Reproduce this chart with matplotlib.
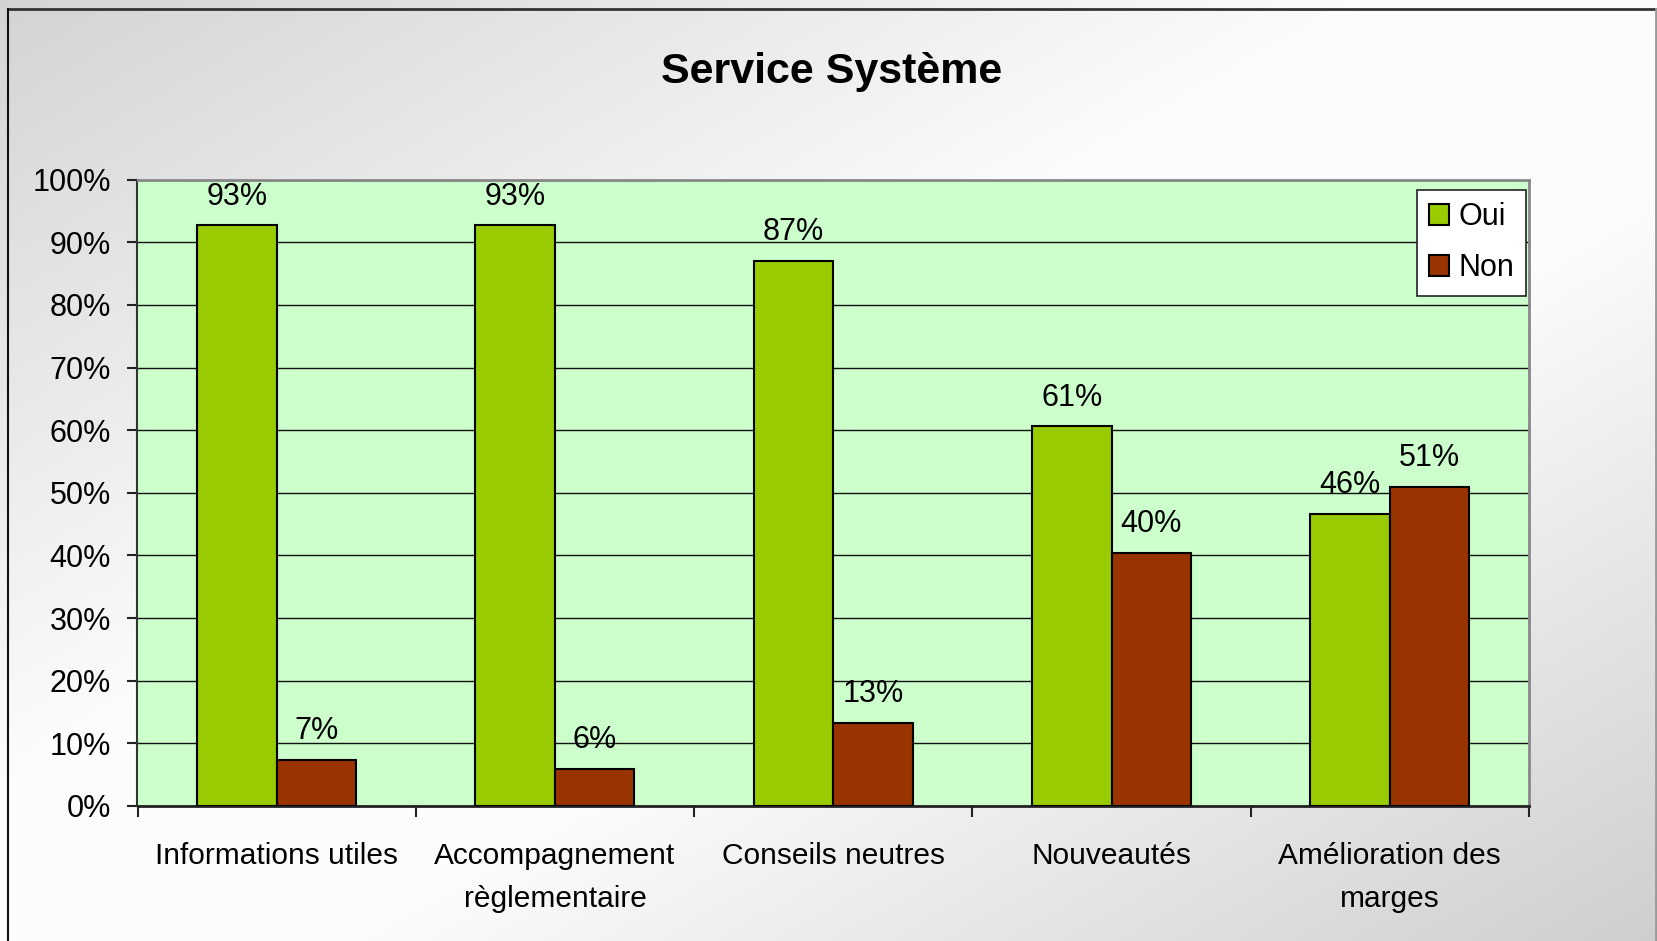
import numpy as np
import matplotlib
matplotlib.use("Agg")
import matplotlib.pyplot as plt
from matplotlib.lines import Line2D

plt.rcParams['font.family'] = ['Liberation Sans', 'DejaVu Sans']

# data
categories = ["Informations utiles", "Accompagnement\nrèglementaire",
              "Conseils neutres", "Nouveautés", "Amélioration des\nmarges"]
oui = [92.7, 92.7, 87.0, 60.6, 46.6]
non = [7.3, 5.9, 13.2, 40.4, 51.0]
oui_labels = ["93%", "93%", "87%", "61%", "46%"]
non_labels = ["7%", "6%", "13%", "40%", "51%"]
yticks = list(range(0, 101, 10))

W, H = 1658, 941
fs = 22
fig = plt.figure(figsize=(W / 100, H / 100), dpi=100)

# diagonal gray -> white -> gray background
bg = fig.add_axes([0, 0, 1, 1], zorder=-10)
xx, yy = np.meshgrid(np.linspace(0, 1, 400), np.linspace(0, 1, 240))
t = (xx + yy) / 2
shade = np.interp(t, [0, 0.42, 0.6, 1], [0.83, 0.99, 0.99, 0.81])
bg.imshow(np.dstack([shade] * 3), extent=[0, 1, 1, 0], aspect='auto')
bg.set_xlim(0, 1)
bg.set_ylim(1, 0)
bg.axis('off')

# outer frame
fx0, fx1, fy0 = 8.5 / W, 1656.5 / W, 1 - 9 / H
fig.add_artist(Line2D([fx0, fx1], [fy0, fy0], color='#333333', lw=2))
fig.add_artist(Line2D([fx0, fx0], [0, fy0], color='#111111', lw=1.5))
fig.add_artist(Line2D([fx1, fx1], [0, fy0], color='#999999', lw=2))

ax = fig.add_axes([137.5 / W, 1 - 805.8 / H, 1391.5 / W, 626 / H])
ax.set_facecolor('#CCFFCC')

x = np.arange(len(categories))
w = 1 / 3.5
b1 = ax.bar(x - w / 2, oui, w, color='#99CC00', edgecolor='black', lw=1.5,
            label='Oui', zorder=3)
b2 = ax.bar(x + w / 2, non, w, color='#993300', edgecolor='black', lw=1.5,
            label='Non', zorder=3)

for bars, labs in ((b1, oui_labels), (b2, non_labels)):
    for rect, lab in zip(bars, labs):
        ax.annotate(lab, (rect.get_x() + rect.get_width() / 2, rect.get_height()),
                    xytext=(0, 15), textcoords='offset points', ha='center',
                    va='baseline', fontsize=fs, zorder=5, annotation_clip=False)

ax.set_xlim(-0.5, len(categories) - 0.5)
ax.set_ylim(0, 100)
ax.set_yticks(yticks)
ax.set_yticklabels([f"{v}%" for v in yticks])
ax.set_xticks(x)
ax.set_xticklabels(categories, linespacing=1.7)
ax.set_xticks(np.arange(-0.5, len(categories), 1), minor=True)
ax.tick_params(axis='x', which='major', length=0, pad=26, labelsize=21.5)
ax.tick_params(axis='x', which='minor', length=8, width=1.5, color='#222222')
ax.tick_params(axis='y', length=7, width=1.5, pad=12, labelsize=fs, color='#222222')

ax.yaxis.grid(True, color='#111111', lw=1, zorder=1)
ax.set_axisbelow(True)
for s in ('top', 'right'):
    ax.spines[s].set_color('#888888')
    ax.spines[s].set_linewidth(2)
ax.spines['left'].set_color('#333333')
ax.spines['left'].set_linewidth(1.5)
ax.spines['bottom'].set_color('#222222')
ax.spines['bottom'].set_linewidth(2)

leg = ax.legend(loc='upper right', bbox_to_anchor=(0.998, 0.984),
                borderaxespad=0, fontsize=fs, handlelength=0.65,
                handleheight=0.65, handletextpad=0.3, labelspacing=0.7,
                borderpad=0.4, fancybox=False, framealpha=1)
leg.get_frame().set_edgecolor('#222222')
leg.get_frame().set_linewidth(1.2)

fig.text(832 / W, 1 - 72 / H, "Service Système", ha='center', va='center',
         fontsize=31, fontweight='bold')

fig.savefig("out.png", dpi=100)
